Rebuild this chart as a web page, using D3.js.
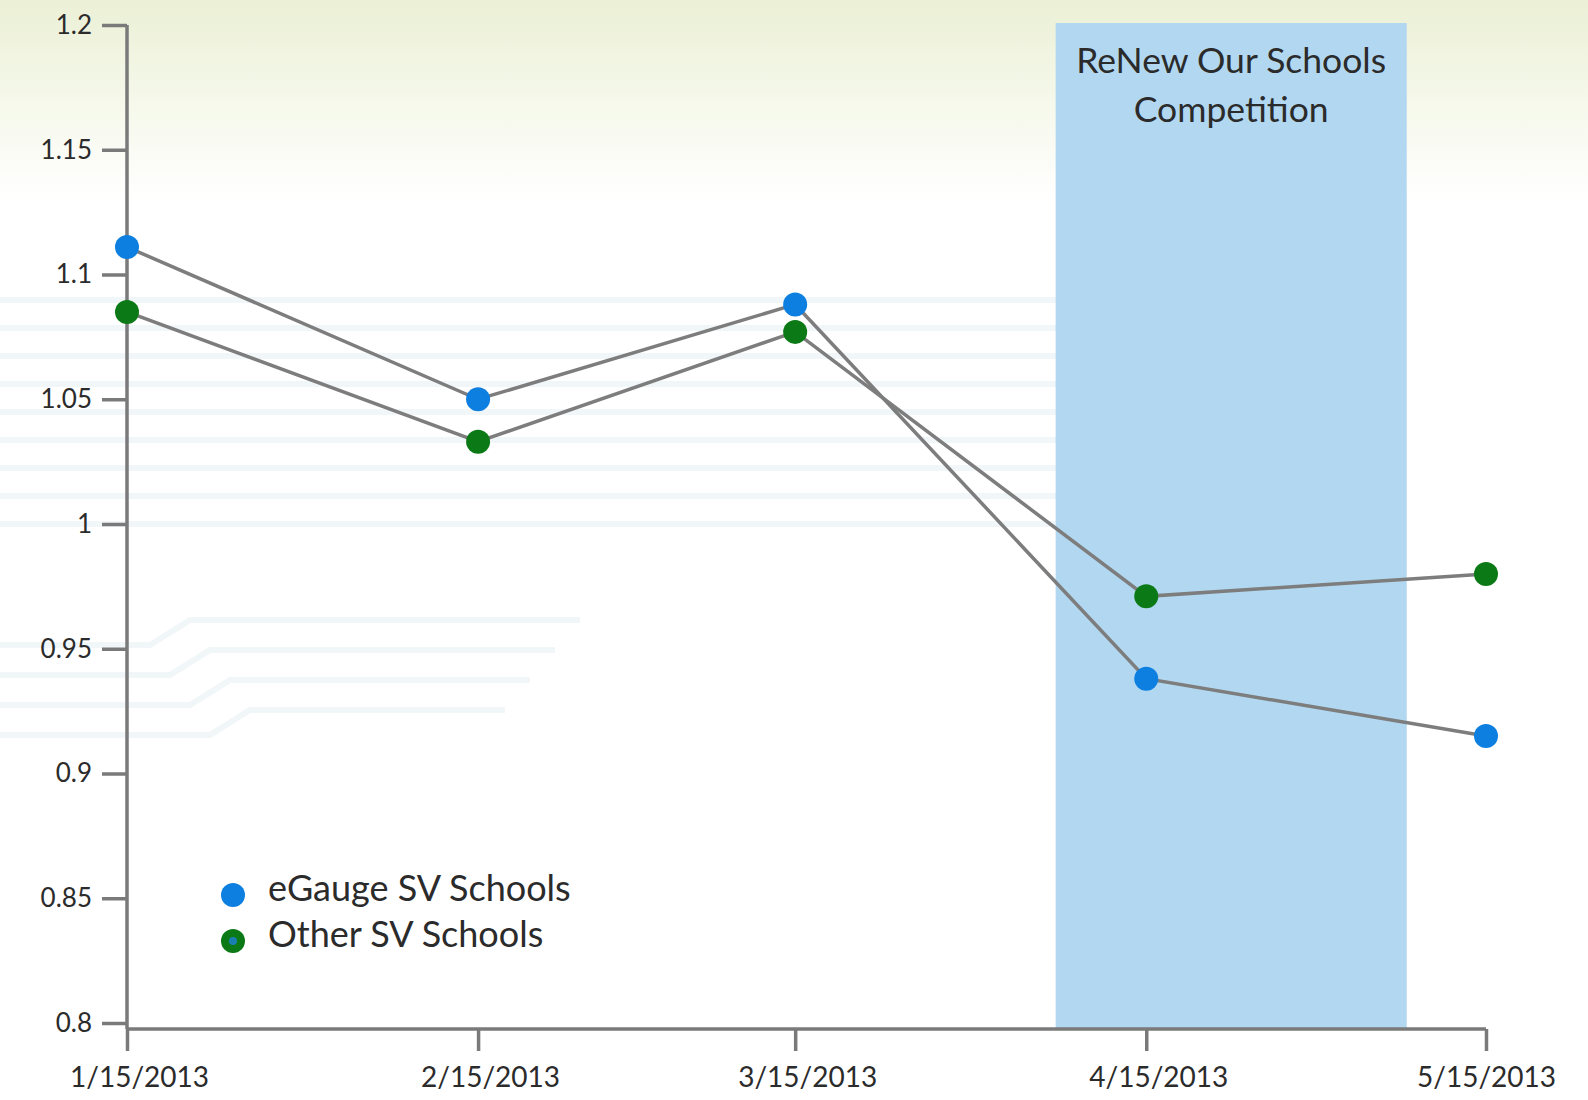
<!DOCTYPE html>
<html>
<head>
<meta charset="utf-8">
<script src="https://cdn.jsdelivr.net/npm/d3@7"></script>
<style>
  html, body { margin: 0; padding: 0; background: #ffffff; }
  svg { display: block; }
  text { font-family: Lato, "Noto Sans", sans-serif; fill: #2b2b2b; }
</style>
</head>
<body>
<svg id="chart" width="1588" height="1100"></svg>
<script>
// Monthly readings (15th of each month)
const dates = ["2013-01-15", "2013-02-15", "2013-03-15", "2013-04-15", "2013-05-15"];
const xTickLabels = ["1/15/2013", "2/15/2013", "3/15/2013", "4/15/2013", "5/15/2013"];

const seriesNames = ["eGauge SV Schools", "Other SV Schools"];
const eGaugeValues = [1.111, 1.050, 1.088, 0.938, 0.915];
const otherValues = [1.085, 1.033, 1.077, 0.971, 0.980];

const yTickValues = [0.8, 0.85, 0.9, 0.95, 1, 1.05, 1.1, 1.15, 1.2];
const yTickLabels = ["0.8", "0.85", "0.9", "0.95", "1", "1.05", "1.1", "1.15", "1.2"];

// Competition period
const competitionLabel = ["ReNew Our Schools", "Competition"];
const competitionStart = "2013-04-07";
const competitionEnd = "2013-05-08";

const parse = d3.utcParse("%Y-%m-%d");
const svg = d3.select("#chart");
const W = 1588, H = 1100;

const colors = { eGauge: "#0c7fe0", other: "#0b7a16", line: "#7d7d7d", axis: "#7a7a7a", band: "#b2d8f1" };

// Scales
const x = d3.scaleUtc()
  .domain([parse(dates[0]), parse(dates[dates.length - 1])])
  .range([127, 1486]);
const y = d3.scaleLinear().domain([0.8, 1.2]).range([1023, 25]);
const axisY = 1029;

// Background: pale wash at the top, faint circuit traces
const defs = svg.append("defs");
const grad = defs.append("linearGradient").attr("id", "topWash").attr("x1", 0).attr("y1", 0).attr("x2", 0).attr("y2", 1);
grad.append("stop").attr("offset", "0%").attr("stop-color", "#ebf0d6");
grad.append("stop").attr("offset", "50%").attr("stop-color", "#f5f8ea");
grad.append("stop").attr("offset", "100%").attr("stop-color", "#ffffff");
svg.append("rect").attr("width", W).attr("height", H).attr("fill", "#ffffff");
svg.append("rect").attr("width", W).attr("height", 200).attr("fill", "url(#topWash)");

const traces = svg.append("g").attr("stroke", "#f1f6f9").attr("stroke-width", 6).attr("fill", "none");
for (let i = 0; i < 9; i++) {
  const ty = 300 + i * 28;
  traces.append("line").attr("x1", 0).attr("x2", 1380 - i * 20).attr("y1", ty).attr("y2", ty);
}
for (let i = 0; i < 4; i++) {
  const ty = 620 + i * 30;
  traces.append("path").attr("d", `M0,${ty + 25}H${150 + i * 20}L${190 + i * 20},${ty}H${580 - i * 25}`);
}

// Competition band
svg.append("rect")
  .attr("x", x(parse(competitionStart)))
  .attr("width", x(parse(competitionEnd)) - x(parse(competitionStart)))
  .attr("y", 23)
  .attr("height", axisY - 23)
  .attr("fill", colors.band);

const bandMid = (x(parse(competitionStart)) + x(parse(competitionEnd))) / 2;
svg.append("text")
  .attr("x", bandMid).attr("y", 73)
  .attr("text-anchor", "middle")
  .style("font-size", "35.5px")
  .selectAll("tspan").data(competitionLabel).join("tspan")
  .attr("x", bandMid).attr("dy", (d, i) => i === 0 ? 0 : 49)
  .text(d => d);

// Axes
const yAxis = d3.axisLeft(y)
  .tickValues(yTickValues)
  .tickFormat((d, i) => yTickLabels[i])
  .tickSize(25)
  .tickPadding(10);
const gy = svg.append("g").attr("transform", "translate(127,0)").call(yAxis);
gy.select(".domain").attr("d", `M0,${y(1.2)}V${axisY}`);

const xAxis = d3.axisBottom(x)
  .tickValues(dates.map(parse))
  .tickFormat((d, i) => xTickLabels[i])
  .tickSize(22)
  .tickSizeOuter(0)
  .tickPadding(16);
const gx = svg.append("g").attr("transform", `translate(0,${axisY})`).call(xAxis);
gx.select(".domain").attr("d", `M127,0H${x(parse(dates[dates.length - 1]))}`);
gx.selectAll(".tick text").attr("dx", (d, i) => i === dates.length - 1 ? 0 : 12);

[gx, gy].forEach(g => {
  g.selectAll(".domain, .tick line").attr("stroke", colors.axis).attr("stroke-width", 3.5);
  g.selectAll(".tick text").attr("fill", "#333333").style("font-family", "Lato, 'Noto Sans', sans-serif");
});
gy.selectAll(".tick text").style("font-size", "26px");
gx.selectAll(".tick text").style("font-size", "28px");

// Series
const series = [
  { name: seriesNames[0], values: eGaugeValues, color: colors.eGauge },
  { name: seriesNames[1], values: otherValues, color: colors.other }
];
const line = d3.line().x((d, i) => x(parse(dates[i]))).y(d => y(d));

svg.append("g").selectAll("path").data(series).join("path")
  .attr("d", s => line(s.values))
  .attr("fill", "none")
  .attr("stroke", colors.line)
  .attr("stroke-width", 3.5);

svg.append("g").selectAll("g").data(series).join("g")
  .attr("fill", s => s.color)
  .selectAll("circle").data(s => s.values).join("circle")
  .attr("cx", (d, i) => x(parse(dates[i])))
  .attr("cy", d => y(d))
  .attr("r", 12);

// Legend
const legend = svg.append("g").attr("transform", "translate(233,895)");
const item = legend.selectAll("g").data(series).join("g")
  .attr("transform", (d, i) => `translate(0,${i * 46})`);
item.append("circle").attr("r", 12).attr("fill", d => d.color);
item.filter((d, i) => i === 1).append("circle").attr("r", 4).attr("fill", "#1a7fb0");
item.append("text")
  .attr("x", 35).attr("y", -7).attr("dy", "0.35em")
  .style("font-size", "36px")
  .text(d => d.name);
</script>
</body>
</html>
